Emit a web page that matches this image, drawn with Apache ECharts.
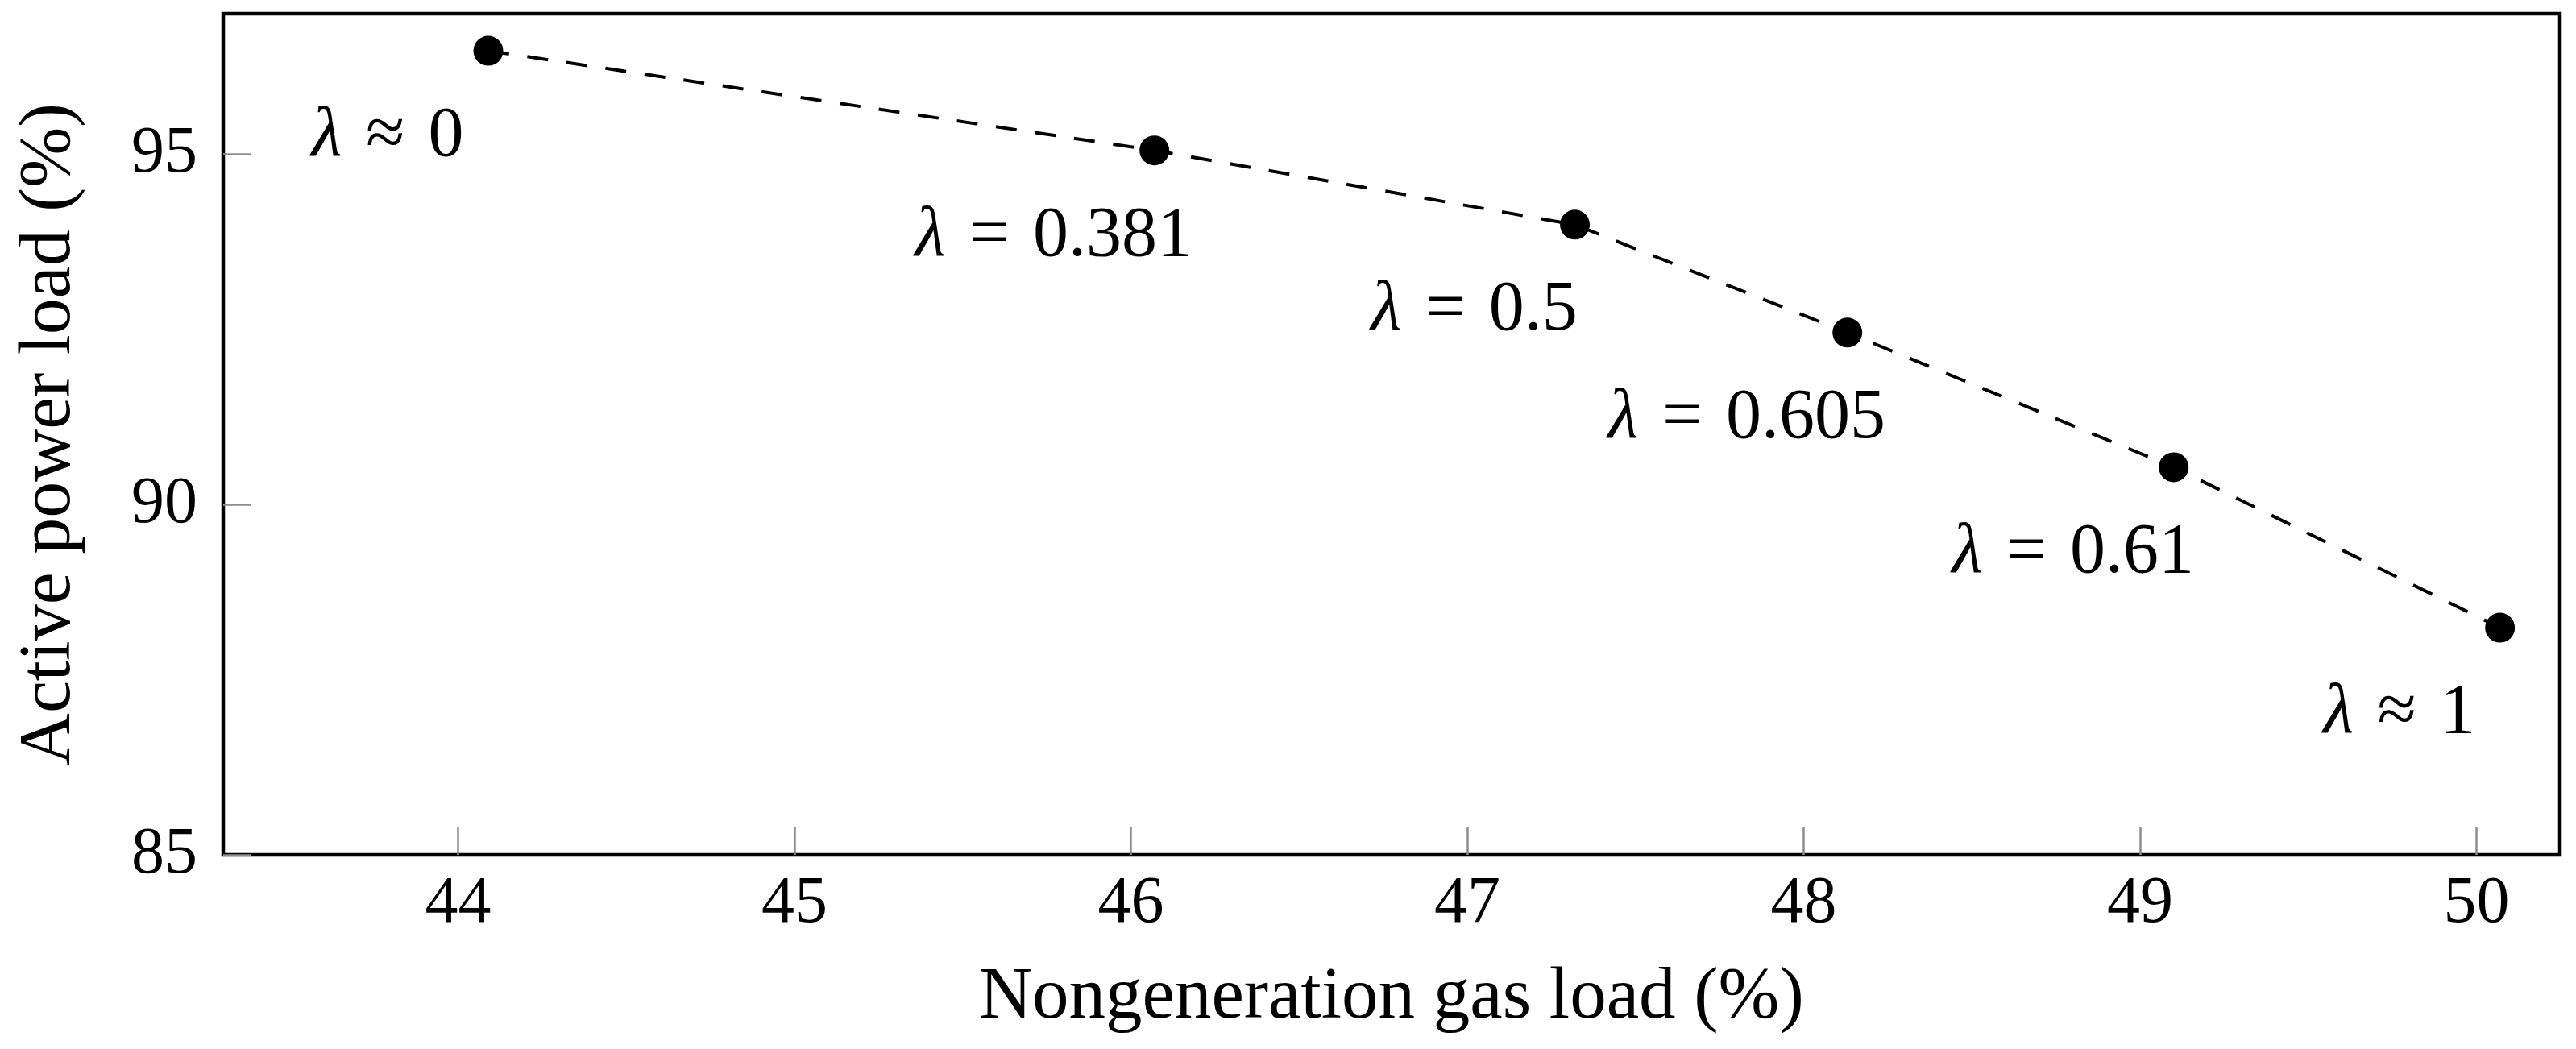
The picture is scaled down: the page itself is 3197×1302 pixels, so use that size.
<!DOCTYPE html>
<html>
<head>
<meta charset="utf-8">
<script src="https://cdn.jsdelivr.net/npm/echarts@6/dist/echarts.min.js"></script>
<style>
  html, body { margin: 0; padding: 0; background: #fff; }
  #chart { width: 3197px; height: 1302px; }
</style>
</head>
<body>
<div id="chart"></div>
<script>
// ---- data ----
const gasLoad = [44.09, 46.07, 47.32, 48.13, 49.10, 50.07];      // x (%)
const powerLoad = [96.47, 95.05, 93.99, 92.45, 90.53, 88.24];    // y (%)
const lambdaRel = ['\u2248', '=', '=', '=', '=', '\u2248'];
const lambdaVal = ['0', '0.381', '0.5', '0.605', '0.61', '1'];
const xTicks = [44, 45, 46, 47, 48, 49, 50];
const yTicks = [85, 90, 95];
const xTitle = 'Nongeneration gas load (%)';
const yTitle = 'Active power load (%)';

const FONT = "'Liberation Serif', 'DejaVu Serif', serif";
const SP = '\u2004';

const chart = echarts.init(document.getElementById('chart'), null, { renderer: 'canvas' });

const seriesData = gasLoad.map((x, i) => [x, powerLoad[i]]);

const option = {
  backgroundColor: '#ffffff',
  animation: false,
  grid: {
    left: 277, top: 17, width: 2900, height: 1044,
    show: true, borderColor: '#000', borderWidth: 4.5, backgroundColor: 'transparent'
  },
  xAxis: {
    type: 'value',
    min: 43.302, max: 50.248,
    name: xTitle,
    nameLocation: 'middle',
    nameGap: 133,
    nameTextStyle: { fontFamily: FONT, fontSize: 91, color: '#000' },
    axisLine: { show: false },
    axisTick: { show: true, inside: true, length: 35, customValues: xTicks,
                lineStyle: { color: '#8c8c8c', width: 2.5 } },
    axisLabel: { show: true, customValues: xTicks, margin: 20,
                 fontFamily: FONT, fontSize: 82, color: '#000' },
    splitLine: { show: false }
  },
  yAxis: {
    type: 'value',
    min: 85, max: 97,
    name: yTitle,
    nameLocation: 'middle',
    nameGap: 170,
    nameRotate: 90,
    nameTextStyle: { fontFamily: FONT, fontSize: 90, color: '#000' },
    axisLine: { show: false },
    axisTick: { show: true, inside: true, length: 35, customValues: yTicks,
                lineStyle: { color: '#8c8c8c', width: 2.5 } },
    axisLabel: { show: true, customValues: yTicks, margin: 32,
                 fontFamily: FONT, fontSize: 82, color: '#000' },
    splitLine: { show: false }
  },
  series: [{
    type: 'line',
    data: seriesData,
    symbol: 'circle',
    symbolSize: 37,
    itemStyle: { color: '#000' },
    lineStyle: { color: '#000', width: 4, type: [26, 23] },
    label: {
      show: true,
      position: 'inside',
      offset: [-125, 107],
      formatter: (p) => '{l|\u03bb}' + SP + lambdaRel[p.dataIndex] + SP + lambdaVal[p.dataIndex],
      fontFamily: FONT,
      fontSize: 88,
      color: '#000',
      align: 'center',
      verticalAlign: 'middle',
      rich: {
        l: { fontFamily: FONT, fontSize: 88, fontStyle: 'italic', color: '#000' }
      }
    },
    emphasis: { disabled: true }
  }]
};

chart.setOption(option);
</script>
</body>
</html>
